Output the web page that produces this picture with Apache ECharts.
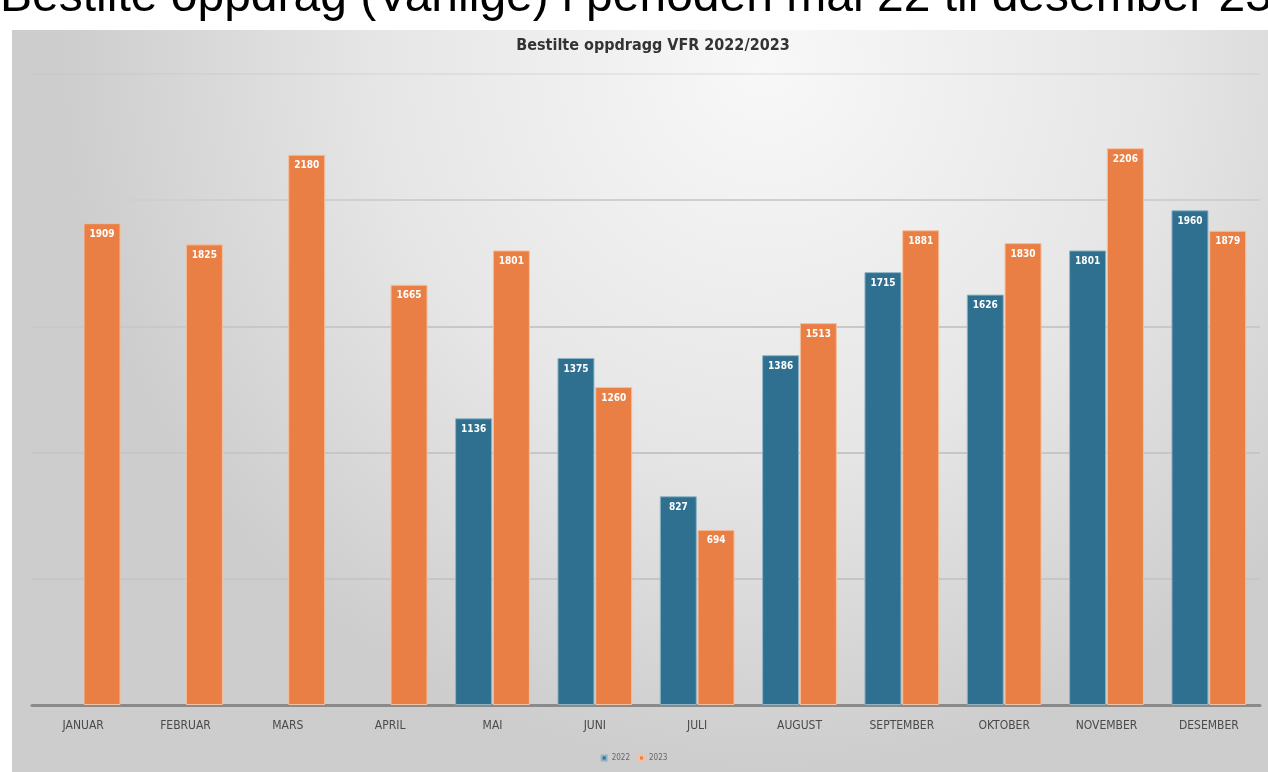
<!DOCTYPE html>
<html>
<head>
<meta charset="utf-8">
<script src="https://cdn.jsdelivr.net/npm/echarts@6/dist/echarts.min.js"></script>
<style>
html,body{margin:0;padding:0;background:#fff;}
#c{width:1268px;height:772px;}
</style>
</head>
<body>
<div id="c"></div>
<script>
const categories = ['JANUAR','FEBRUAR','MARS','APRIL','MAI','JUNI','JULI','AUGUST','SEPTEMBER','OKTOBER','NOVEMBER','DESEMBER'];
const values2022 = [null, null, null, null, 1136, 1375, 827, 1386, 1715, 1626, 1801, 1960];
const values2023 = [1909, 1825, 2180, 1665, 1801, 1260, 694, 1513, 1881, 1830, 2206, 1879];
const seriesNames = ['2022', '2023'];
const yTicks = [0, 500, 1000, 1500, 2000, 2500];

const chart = echarts.init(document.getElementById('c'));
const narrow = "'Liberation Sans Narrow', 'DejaVu Sans Condensed', 'Roboto', sans-serif";
const labelCfg = {
  show: true, position: 'insideTop', distance: 6,
  color: '#ffffff', fontSize: 10, fontWeight: 'bold', fontFamily: narrow
};
chart.setOption({
  animation: false,
  graphic: [
    {
      type: 'rect', z: -10, silent: true,
      shape: { x: 12, y: 30, width: 1256, height: 742 },
      style: {
        fill: new echarts.graphic.RadialGradient(0.6, 0.05, 0.95, [
          { offset: 0, color: '#f8f8f8' },
          { offset: 0.55, color: '#e6e6e6' },
          { offset: 1, color: '#cdcdcd' }
        ])
      }
    },
    {
      type: 'text', z: 10, left: 0, top: -26,
      style: {
        text: 'Bestilte oppdrag (Vanlige) i perioden mai 22 til desember 23',
        fontSize: 48, fontFamily: "'Liberation Sans', Arial, sans-serif",
        fill: '#000'
      }
    }
  ],
  title: {
    text: 'Bestilte oppdragg VFR 2022/2023',
    left: 648, top: 33, textAlign: 'center',
    textStyle: { fontSize: 16, fontWeight: 'bold', color: '#333', fontFamily: narrow }
  },
  legend: {
    data: seriesNames, bottom: 5, left: 'center',
    itemWidth: 5, itemHeight: 5, itemGap: 8, icon: 'rect',
    textStyle: { fontSize: 8, color: '#666', fontFamily: narrow }
  },
  grid: { left: 32, right: 8, top: 74, bottom: 67 },
  xAxis: {
    type: 'category', data: categories,
    axisTick: { show: false },
    axisLine: { lineStyle: { color: '#8a8a8a', width: 3 } },
    axisLabel: { color: '#4a4a4a', fontSize: 12, fontFamily: narrow, margin: 15 }
  },
  yAxis: {
    type: 'value', min: yTicks[0], max: yTicks[yTicks.length - 1], interval: 500,
    axisLabel: { show: false },
    axisLine: { show: false },
    axisTick: { show: false },
    splitLine: { lineStyle: { color: ['#c6c6c6', '#c6c6c6', '#c6c6c6', '#c8c8c8', '#cfcfcf', 'rgba(190,190,190,0.25)'], width: 2 } }
  },
  series: [
    {
      name: seriesNames[0], type: 'bar', data: values2022,
      barWidth: 37, barGap: '2%',
      itemStyle: { color: '#2f6f8f', borderColor: '#8fb4c6', borderWidth: 1 },
      label: labelCfg
    },
    {
      name: seriesNames[1], type: 'bar', data: values2023,
      barWidth: 37,
      itemStyle: { color: '#e97f45', borderColor: '#f4c0a0', borderWidth: 1 },
      label: labelCfg
    }
  ]
});
</script>
</body>
</html>
